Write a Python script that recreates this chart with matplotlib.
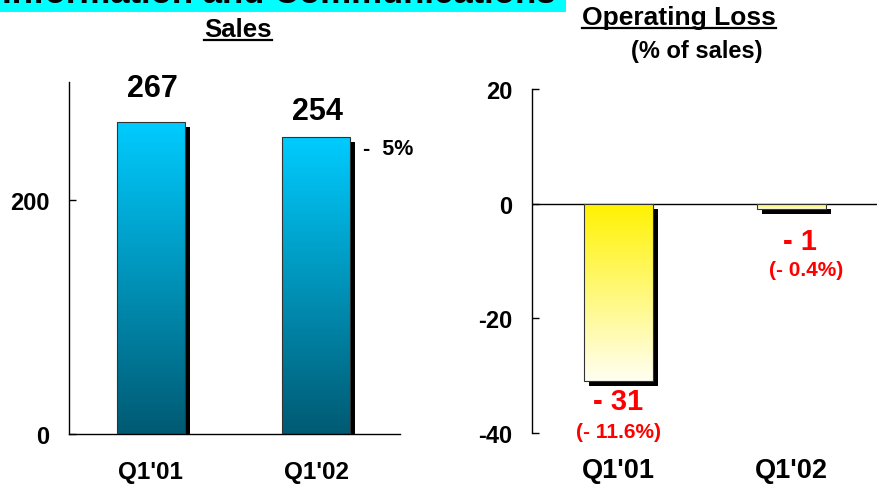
import numpy as np
import matplotlib
matplotlib.use("Agg")
import matplotlib.pyplot as plt
from matplotlib.transforms import offset_copy
from matplotlib.lines import Line2D
from matplotlib.patches import Rectangle
from matplotlib.colors import to_rgb

plt.rcParams['font.family'] = ['Liberation Sans', 'DejaVu Sans']
plt.rcParams['font.weight'] = 'bold'
plt.rcParams['axes.unicode_minus'] = False

# data
quarters = ["Q1'01", "Q1'02"]
sales = [267, 254]
sales_labels = ["267", "254"]
sales_change = "-  5%"
op_loss = [-31, -1]
op_loss_labels = ["- 31", "- 1"]
op_loss_pct = ["(- 11.6%)", "(- 0.4%)"]
sales_ticks = [0, 200]
loss_ticks = [-40, -20, 0, 20]

W, H = 877, 485
fig = plt.figure(figsize=(W / 100, H / 100), dpi=100)


def px_axes(x0, y0, x1, y1):
    # pixel box (top-left origin) -> figure fractions
    return fig.add_axes([x0 / W, 1 - y1 / H, (x1 - x0) / W, (y1 - y0) / H])


def gradient_bars(ax, x, vals, width, top, bottom, dx=5, dy=-5):
    shadow = ax.bar(x, vals, width, color='black', zorder=1.5)
    for p in shadow:
        p.set_transform(offset_copy(ax.transData, fig=fig, x=dx, y=dy, units='dots'))
    bars = ax.bar(x, vals, width, facecolor='none', edgecolor='#333333',
                  linewidth=0.8, zorder=3)
    c0, c1 = np.array(to_rgb(top)), np.array(to_rgb(bottom))
    t = np.linspace(0, 1, 256)[:, None, None]
    grad = c0 * (1 - t) + c1 * t
    for p in bars:
        bx, by = p.get_x(), p.get_y()
        bw, bh = p.get_width(), p.get_height()
        ymin, ymax = min(by, by + bh), max(by, by + bh)
        im = ax.imshow(grad, extent=[bx, bx + bw, ymin, ymax], origin='upper',
                       aspect='auto', zorder=2.5, interpolation='bilinear')
        im.set_clip_path(p)
    return bars


# header strip (cut off at the top)
fig.patches.append(Rectangle((0, 1 - 13 / H), 566 / W, 13 / H, transform=fig.transFigure,
                             facecolor='#00FFFF', edgecolor='none', zorder=0))
fig.text(2 / W, 1 - 3 / H, "Information and Communications", fontsize=25,
         ha='left', va='baseline', color='black')

# ---- Sales ----
ax1 = px_axes(69, 83, 400, 435)
x = np.arange(len(quarters))
bars1 = gradient_bars(ax1, x, sales, 0.41, '#00CCFF', '#005A73')
ax1.set_xlim(-0.495, 1.505)
ax1.set_ylim(0, 301)
for s in ['top', 'right']:
    ax1.spines[s].set_visible(False)
for s in ['left', 'bottom']:
    ax1.spines[s].set_linewidth(1.0)
ax1.set_yticks(sales_ticks)
ax1.tick_params(axis='y', direction='in', length=5, width=1, labelsize=17, pad=14)
ax1.set_xticks(x)
ax1.set_xticklabels(quarters)
ax1.tick_params(axis='x', length=0, labelsize=17.5, pad=19)
for xi, v, lab, off in zip(x, sales, sales_labels, [24, 19]):
    ax1.annotate(lab, (xi, v), xytext=(1, off), textcoords='offset points',
                 ha='center', va='center', fontsize=22)
b = bars1[1]
ax1.annotate(sales_change, (b.get_x() + b.get_width(), sales[1]), xytext=(9, -8),
             textcoords='offset points', ha='left', va='center', fontsize=15.5)

# ---- Operating loss ----
ax2 = px_axes(532, 90, 877, 434)
bars2 = gradient_bars(ax2, x, op_loss, 0.40, '#FFF200', '#FFFFF2')
ax2.set_xlim(-0.5, 1.494)
ax2.set_ylim(-40, 20)
for s in ['top', 'right', 'bottom']:
    ax2.spines[s].set_visible(False)
ax2.spines['left'].set_linewidth(1.0)
ax2.axhline(0, color='black', linewidth=1.0, zorder=2)
ax2.set_yticks(loss_ticks)
ax2.tick_params(axis='y', direction='in', length=5, width=1, labelsize=17, pad=14)
ax2.set_xticks(x)
ax2.set_xticklabels(quarters)
ax2.tick_params(axis='x', length=0, labelsize=19.5, pad=17)
for xi, v, lab, pct, dx, o1, o2 in zip(x, op_loss, op_loss_labels, op_loss_pct,
                                       [0, 6], [-14, -23], [-36, -43]):
    ax2.annotate(lab, (xi, v), xytext=(dx, o1), textcoords='offset points',
                 ha='center', va='center', fontsize=21, color='#FF0000')
    ax2.annotate(pct, (xi, v), xytext=(dx * 1.8, o2), textcoords='offset points',
                 ha='center', va='center', fontsize=15, color='#FF0000')

# underlined titles
titles = [("Sales", 238, 37, 18.5), ("Operating Loss", 679, 25, 19)]
fig.canvas.draw()
for txt, cx, base, fs in titles:
    t = fig.text(cx / W, 1 - base / H, txt, fontsize=fs, ha='center', va='baseline')
    bb = t.get_window_extent(renderer=fig.canvas.get_renderer())
    yl = H - base - 4
    fig.add_artist(Line2D([bb.x0 / W, bb.x1 / W], [yl / H, yl / H],
                          transform=fig.transFigure, color='black', linewidth=1.6))
fig.text(697 / W, 1 - 52 / H, "(% of sales)", fontsize=17, ha='center', va='center')

fig.savefig('out.png', dpi=100)
